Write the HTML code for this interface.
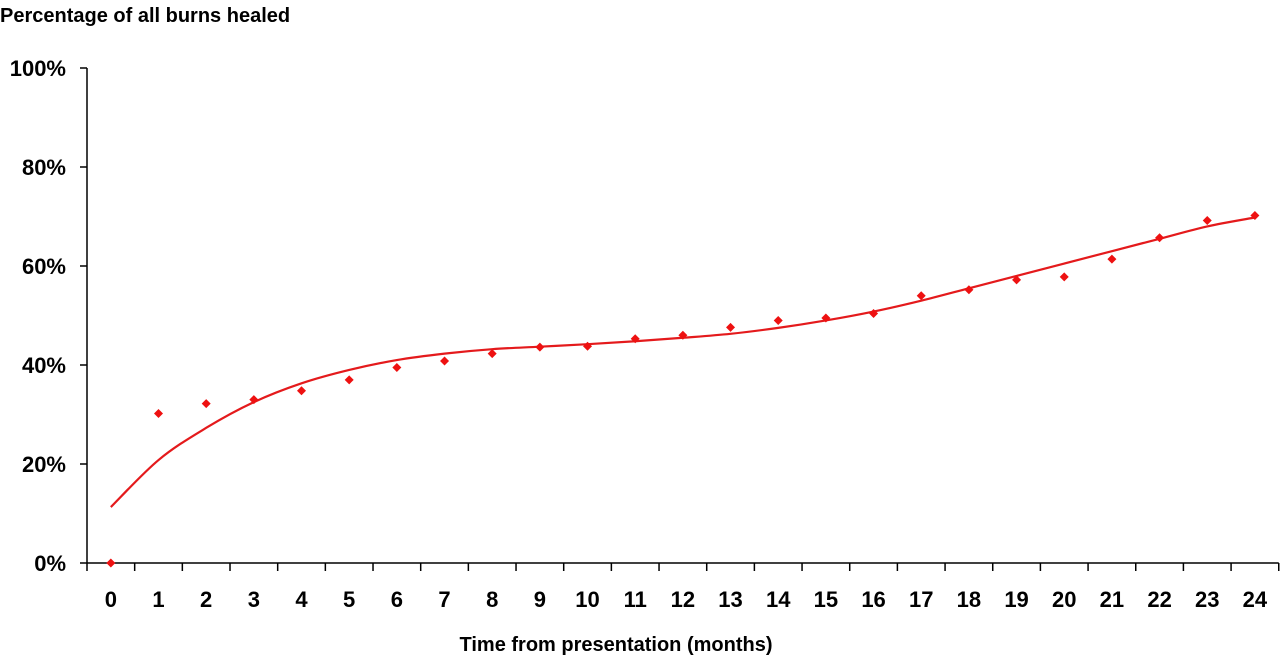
<!DOCTYPE html>
<html><head><meta charset="utf-8"><style>
html,body{margin:0;padding:0;background:#fff;}
svg{display:block;font-family:"Liberation Sans",sans-serif;font-weight:bold;}
</style></head><body>
<svg id="chart" width="1280" height="661" viewBox="0 0 1280 661" xmlns="http://www.w3.org/2000/svg">
<text x="0" y="22" font-size="20" fill="#000">Percentage of all burns healed</text>
<text x="616" y="651" font-size="20" text-anchor="middle" fill="#000">Time from presentation  (months)</text>
<g id="axes"></g>
<g id="trend"></g>
<g id="points"></g>
</svg>
<script>
const months = [0,1,2,3,4,5,6,7,8,9,10,11,12,13,14,15,16,17,18,19,20,21,22,23,24];
const healedPct = [0,30.2,32.2,33,34.8,37,39.5,40.8,42.3,43.6,43.8,45.3,46,47.6,49,49.5,50.4,54,55.2,57.2,57.8,61.4,65.7,69.2,70.2];
const trendPct = [11.3,20.8,27.3,32.5,36.3,39,41,42.3,43.2,43.7,44.2,44.8,45.5,46.3,47.5,49,50.8,53,55.5,58,60.5,63,65.5,68,69.8];
const yTicks = [0,20,40,60,80,100];
const yTickLabels = ["0%","20%","40%","60%","80%","100%"];

const NS = "http://www.w3.org/2000/svg";
const x0 = 87, catW = 47.67, yZero = 563, yTop = 68;
function xScale(i){ return x0 + catW*(i+0.5); }
function yScale(v){ return yZero - (yZero - yTop)*v/100; }
function mk(tag, attrs, parent){ const e=document.createElementNS(NS,tag); for(const k in attrs) e.setAttribute(k,attrs[k]); parent.appendChild(e); return e; }

const axes = document.getElementById('axes');
let yl = mk('line',{x1:x0,y1:yTop,x2:x0,y2:yZero,stroke:'#000','stroke-width':1.5},axes);


let xl = mk('line',{x1:x0,y1:yZero,x2:x0+catW*months.length,y2:yZero,stroke:'#000','stroke-width':1.5},axes);


yTicks.forEach((t,i)=>{
  const y=yScale(t);
  let tk = mk('line',{x1:x0-7,y1:y,x2:x0,y2:y,stroke:'#000','stroke-width':1.5},axes);
  
  
  let lb = mk('text',{x:66,y:y+8,'font-size':22,'text-anchor':'end',fill:'#000'},axes);
  lb.textContent = yTickLabels[i];
  
  
});
for(let i=0;i<=months.length;i++){
  const x=x0+catW*i;
  let tk = mk('line',{x1:x,y1:yZero,x2:x,y2:yZero+8,stroke:'#000','stroke-width':1.5},axes);
  
  
}
months.forEach((m,i)=>{
  let lb = mk('text',{x:xScale(i),y:607,'font-size':22,'text-anchor':'middle',fill:'#000'},axes);
  lb.textContent = m;
  
  
});

// smooth trend line (Catmull-Rom)
const pts = trendPct.map((v,i)=>[xScale(i),yScale(v)]);
let d = `M${pts[0][0]},${pts[0][1]}`;
for(let i=0;i<pts.length-1;i++){
  const p0=pts[Math.max(0,i-1)],p1=pts[i],p2=pts[i+1],p3=pts[Math.min(pts.length-1,i+2)];
  const c1=[p1[0]+(p2[0]-p0[0])/6,p1[1]+(p2[1]-p0[1])/6];
  const c2=[p2[0]-(p3[0]-p1[0])/6,p2[1]-(p3[1]-p1[1])/6];
  d+=` C${c1[0]},${c1[1]} ${c2[0]},${c2[1]} ${p2[0]},${p2[1]}`;
}
let tl = mk('path',{d:d,fill:'none',stroke:'#e41a1c','stroke-width':2.2},document.getElementById('trend'));



const pg = document.getElementById('points');
healedPct.forEach((v,i)=>{
  const x=xScale(i), y=yScale(v), r=4.5;
  let p = mk('polygon',{points:`${x},${y-r} ${x+r},${y} ${x},${y+r} ${x-r},${y}`,fill:'#ee1111'},pg);
  
  
});
</script>
</body></html>
